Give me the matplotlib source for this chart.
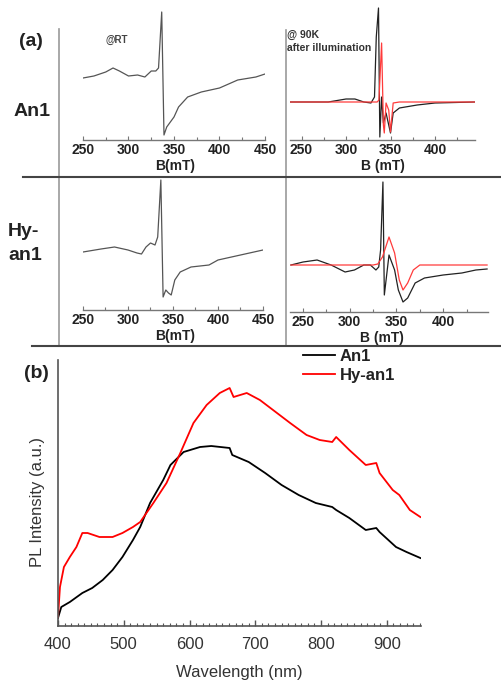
import matplotlib
matplotlib.use("Agg")
import matplotlib.pyplot as plt
from matplotlib.lines import Line2D
from matplotlib.ticker import MultipleLocator

plt.rcParams['font.family'] = ['Liberation Sans', 'DejaVu Sans']

# ---------------- data ----------------
# EPR An1 at room temperature
an1_rt_B = [250, 262, 275, 283, 290, 300, 310, 318, 325, 330, 333, 336.5, 339, 342, 350, 355, 365, 380, 400, 420, 440, 450]
an1_rt_I = [62, 64, 68, 72, 69, 64, 65, 63, 69, 69, 72, 128, 5, 13, 23, 33, 43, 48, 52, 60, 63, 66]

# EPR An1 at 90 K after illumination (black = experiment, red = simulation)
an1_90_B = [237, 260, 280, 300, 310, 320, 328, 332, 334, 336.5, 338, 340, 342, 345, 350, 353, 360, 380, 400, 445]
an1_90_I = [38, 38, 38, 41, 41, 38, 37, 43, 103, 132, 3, 43, 17, 27, 7, 27, 32, 35, 37, 38]
an1_90_sim_B = [237, 300, 335, 337, 340, 342, 343, 345, 348, 350, 353, 360, 445]
an1_90_sim_I = [38, 38, 38, 40, 97, 15, 7, 37, 30, 8, 37, 38, 38]

# EPR Hy-an1 at room temperature
hy_rt_B = [250, 270, 285, 300, 310, 315, 320, 325, 330, 333, 336.5, 339, 342, 345, 348, 352, 358, 370, 390, 400, 420, 450]
hy_rt_I = [58, 61, 63, 60, 57, 56, 63, 67, 65, 73, 130, 13, 20, 17, 15, 30, 38, 43, 45, 50, 54, 60]

# EPR Hy-an1 at 90 K after illumination
hy_90_B = [237, 250, 265, 280, 295, 305, 315, 322, 328, 331, 333, 335.5, 337, 342, 348, 352, 357, 362, 370, 380, 400, 420, 435, 447]
hy_90_I = [47, 50, 52, 47, 40, 42, 47, 47, 42, 45, 62, 130, 17, 57, 42, 22, 10, 14, 29, 34, 37, 39, 42, 43]
hy_90_sim_B = [237, 325, 330, 335, 342, 348, 353, 357, 362, 368, 375, 447]
hy_90_sim_I = [47, 47, 48, 55, 75, 59, 32, 22, 29, 42, 47, 47]

# PL spectra
pl_an1_wl = [400, 405, 418, 437, 452, 468, 483, 498, 514, 525, 540, 560, 571, 591, 616, 633, 661, 665, 690, 715, 740,
             766, 792, 817, 823, 843, 868, 884, 889, 899, 914, 930, 951]
pl_an1_I = [8, 19, 24, 33, 38, 46, 56, 69, 86, 99, 123, 146, 161, 174, 179, 180, 178, 171, 164, 153, 141,
            131, 123, 119, 116, 108, 96, 98, 94, 88, 79, 74, 68]
pl_hy_wl = [400, 403, 409, 418, 428, 437, 445, 463, 483, 498, 514, 525, 545, 565, 586, 606, 626, 646, 661, 667, 687,
            707, 727, 753, 778, 798, 817, 823, 843, 868, 884, 889, 909, 919, 935, 951]
pl_hy_I = [9, 39, 59, 69, 79, 93, 93, 89, 89, 93, 99, 104, 123, 143, 173, 203, 221, 233, 238, 229, 233,
           226, 216, 203, 191, 186, 184, 189, 176, 161, 163, 153, 136, 131, 116, 109]

epr_ticks = [250, 300, 350, 400]
pl_ticks = [400, 500, 600, 700, 800, 900]

# ---------------- figure ----------------
W, H = 502, 686
fig = plt.figure(figsize=(W / 100, H / 100), dpi=100)


def px_axes(x0, y0, x1, y1):
    return fig.add_axes([x0 / W, 1 - y1 / H, (x1 - x0) / W, (y1 - y0) / H])


GRAY = '#555555'
DARK = '#222222'
RED = '#ff3b3b'


def style_epr(ax, xlim, spine_bounds, ticks):
    ax.set_xlim(*xlim)
    ax.set_ylim(0, 135)
    for s in ['top', 'right', 'left']:
        ax.spines[s].set_visible(False)
    ax.spines['bottom'].set_color('#777777')
    ax.spines['bottom'].set_linewidth(1.0)
    ax.spines['bottom'].set_bounds(*spine_bounds)
    ax.set_yticks([])
    ax.set_xticks(ticks)
    ax.xaxis.set_minor_locator(MultipleLocator(25))
    ax.tick_params(axis='x', which='major', direction='in', length=3, width=0.8, color='#777777',
                   pad=2.2, labelsize=10, labelcolor=DARK)
    ax.tick_params(axis='x', which='minor', direction='in', length=2, width=0.8, color='#777777')
    for t in ax.get_xticklabels():
        t.set_fontweight('bold')
    ax.patch.set_alpha(0)


ax1 = px_axes(83, 5, 265, 140)
ax1.plot(an1_rt_B, an1_rt_I, color=GRAY, lw=0.9)
style_epr(ax1, (250, 450), (250, 450), epr_ticks + [450])

ax2 = px_axes(290, 5, 475, 140)
ax2.plot(an1_90_B, an1_90_I, color=DARK, lw=0.9)
ax2.plot(an1_90_sim_B, an1_90_sim_I, color=RED, lw=0.9)
style_epr(ax2, (237, 445), (237, 445), epr_ticks)

ax3 = px_axes(83, 175, 263, 310)
ax3.plot(hy_rt_B, hy_rt_I, color=GRAY, lw=0.9)
style_epr(ax3, (250, 450), (250, 450), epr_ticks + [450])

ax4 = px_axes(290, 177, 488, 312)
ax4.plot(hy_90_B, hy_90_I, color=DARK, lw=0.9)
ax4.plot(hy_90_sim_B, hy_90_sim_I, color=RED, lw=0.9)
style_epr(ax4, (236, 448), (236, 448), epr_ticks)

# PL panel
ax5 = px_axes(58, 360, 421, 626)
ax5.plot(pl_an1_wl, pl_an1_I, color='#000000', lw=1.3, label='An1')
ax5.plot(pl_hy_wl, pl_hy_I, color='#ff0000', lw=1.3, label='Hy-an1')
ax5.set_xlim(400, 952)
ax5.set_ylim(0, 266)
for s in ['top', 'right']:
    ax5.spines[s].set_visible(False)
for s in ['bottom', 'left']:
    ax5.spines[s].set_color('#555555')
    ax5.spines[s].set_linewidth(1.2)
ax5.set_yticks([])
ax5.set_xticks(pl_ticks)
ax5.xaxis.set_minor_locator(MultipleLocator(10))
ax5.tick_params(axis='x', which='major', direction='in', length=4, width=1, color='#555555',
                pad=8, labelsize=12, labelcolor='#333333')
ax5.tick_params(axis='x', which='minor', direction='in', length=2.5, width=0.8, color='#555555')
ax5.set_xlabel('Wavelength (nm)', fontsize=12, color='#333333', labelpad=9)
ax5.patch.set_alpha(0)

leg = ax5.legend(loc='upper left', bbox_to_anchor=(303 / W, 1 - 349 / H), bbox_transform=fig.transFigure,
                 frameon=False, borderpad=0, borderaxespad=0, handlelength=1.9, handletextpad=0.3,
                 labelspacing=0.25, prop={'size': 12, 'weight': 'bold'})
for t in leg.get_texts():
    t.set_color(DARK)

# overlay for dividers and labels (pixel coordinates)
ov = fig.add_axes([0, 0, 1, 1])
ov.set_xlim(0, W)
ov.set_ylim(H, 0)
ov.axis('off')
ov.patch.set_alpha(0)
ov.add_line(Line2D([59, 59], [29, 345], color='#999999', lw=1.2))
ov.add_line(Line2D([286, 286], [30, 345], color='#999999', lw=1.2))
ov.add_line(Line2D([23, 502], [176.5, 176.5], color='#444444', lw=1.5))
ov.add_line(Line2D([32, 502], [345.5, 345.5], color='#444444', lw=1.5))

ov.text(31, 41, '(a)', fontsize=14, fontweight='bold', ha='center', va='center', color=DARK)
ov.text(36, 373, '(b)', fontsize=14, fontweight='bold', ha='center', va='center', color=DARK)
ov.text(32, 111, 'An1', fontsize=14, fontweight='bold', ha='center', va='center', color=DARK)
ov.text(8, 231, 'Hy-', fontsize=14, fontweight='bold', ha='left', va='center', color=DARK)
ov.text(8, 256, 'an1', fontsize=14, fontweight='bold', ha='left', va='center', color=DARK)
ov.text(117, 40, '@RT', fontsize=7, fontweight='bold', ha='center', va='center', color='#444444')
ov.text(287, 34.5, '@ 90K', fontsize=7.5, fontweight='bold', ha='left', va='center', color='#333333')
ov.text(287, 48, 'after illumination', fontsize=7.5, fontweight='bold', ha='left', va='center', color='#333333')
ov.text(175, 166, 'B(mT)', fontsize=10, fontweight='bold', ha='center', va='center', color=DARK)
ov.text(383, 166, 'B (mT)', fontsize=10, fontweight='bold', ha='center', va='center', color=DARK)
ov.text(175, 336, 'B(mT)', fontsize=10, fontweight='bold', ha='center', va='center', color=DARK)
ov.text(382, 338, 'B (mT)', fontsize=10, fontweight='bold', ha='center', va='center', color=DARK)
ov.text(38, 502, 'PL Intensity (a.u.)', fontsize=12, rotation=90, ha='center', va='center', color='#333333')

fig.savefig('out.png', dpi=100)
